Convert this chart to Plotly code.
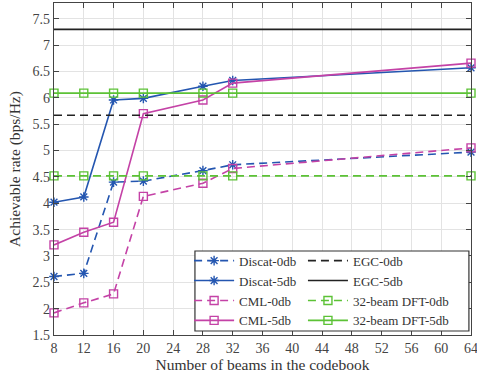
import plotly.graph_objects as go

beams = [8, 12, 16, 20, 28, 32, 64]
discat_0db = [2.61, 2.67, 4.40, 4.42, 4.62, 4.73, 4.97]
discat_5db = [4.02, 4.12, 5.96, 5.99, 6.22, 6.33, 6.57]
cml_0db = [1.92, 2.11, 2.28, 4.13, 4.38, 4.66, 5.05]
cml_5db = [3.21, 3.45, 3.64, 5.70, 5.96, 6.28, 6.66]
egc_0db = [5.67] * len(beams)
egc_5db = [7.30] * len(beams)
dft_0db = [4.52] * len(beams)
dft_5db = [6.09] * len(beams)

BLUE = "#2456b0"
MAG = "#c442a6"
GREEN = "#5cc236"
BLACK = "#222222"
DASH = "8px,5px"

fig = go.Figure()

def add(name, y, color, dash, symbol, legend):
    mode = "lines+markers" if symbol else "lines"
    fig.add_trace(go.Scatter(
        x=beams, y=y, name=name, mode=mode, legend=legend, cliponaxis=False,
        line=dict(color=color, width=1.6, dash=dash),
        marker=dict(symbol=symbol or "circle", size=8, color=color,
                    line=dict(color=color, width=1.4)),
    ))

add("Discat-0db", discat_0db, BLUE, DASH, "asterisk-open", "legend")
add("Discat-5db", discat_5db, BLUE, "solid", "asterisk-open", "legend")
add("CML-0db", cml_0db, MAG, DASH, "square-open", "legend")
add("CML-5db", cml_5db, MAG, "solid", "square-open", "legend")
add("EGC-0db", egc_0db, BLACK, DASH, None, "legend2")
add("EGC-5db", egc_5db, BLACK, "solid", None, "legend2")
add("32-beam DFT-0db", dft_0db, GREEN, DASH, "square-open", "legend2")
add("32-beam DFT-5db", dft_5db, GREEN, "solid", "square-open", "legend2")

axis_common = dict(
    showline=True, linecolor="#444444", linewidth=1.2, mirror="ticks",
    ticks="inside", ticklen=5, tickcolor="#444444",
    showgrid=True, gridcolor="#e3e3e3", gridwidth=1, zeroline=False,
    automargin=False, ticklabeloverflow="allow",
    tickfont=dict(family="Liberation Serif", size=14, color="#444444"),
    title_font=dict(family="Liberation Serif", size=15.5, color="#333333"),
)

legend_common = dict(
    orientation="v", yanchor="top", xanchor="left",
    bgcolor="rgba(0,0,0,0)", borderwidth=0,
    font=dict(family="Liberation Serif", size=13, color="#333333"),
    itemwidth=40, tracegroupgap=0,
)

fig.update_layout(
    width=477, height=382,
    margin=dict(l=54, r=6, t=3, b=47),
    paper_bgcolor="white", plot_bgcolor="white",
    font=dict(family="Liberation Serif", size=14, color="#333333"),
    xaxis=dict(range=[8, 64], tick0=8, dtick=4,
               title=dict(text="Number of beams in the codebook", standoff=4),
               **axis_common),
    yaxis=dict(range=[1.5, 7.8], tick0=1.5, dtick=0.5,
               title=dict(text="Achievable rate (bps/Hz)", standoff=8),
               **axis_common),
    legend=dict(x=0.324, y=0.269, **legend_common),
    legend2=dict(x=0.597, y=0.269, **legend_common),
    shapes=[dict(type="rect", xref="paper", yref="paper",
                 x0=0.338, x1=0.995, y0=0.012, y1=0.253,
                 line=dict(color="#333333", width=1.2),
                 fillcolor="white", layer="above")],
    showlegend=True,
)

fig.write_html(
    "out.html",
    config={"displayModeBar": False},
    post_script="document.body.style.margin='0';document.body.style.overflow='hidden';",
)
